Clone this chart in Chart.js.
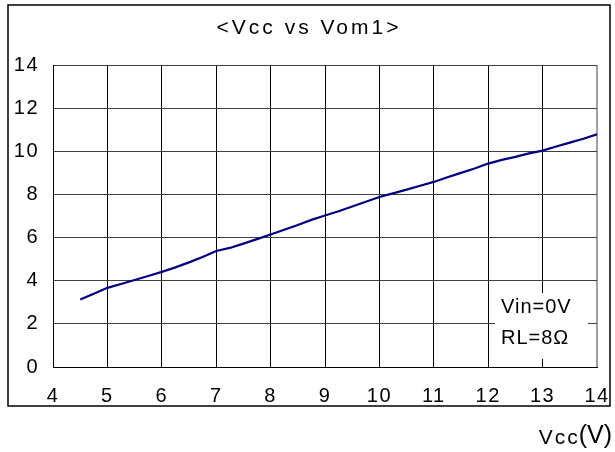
<!DOCTYPE html>
<html>
<head>
<meta charset="utf-8">
<script src="https://cdn.jsdelivr.net/npm/chart.js@4"></script>
<style>
  html, body { margin: 0; padding: 0; background: #fff; }
  #wrap { position: relative; width: 615px; height: 452px; }
  canvas { position: absolute; left: 0; top: 0; }
</style>
</head>
<body>
<div id="wrap"><canvas id="c" width="615" height="452"></canvas></div>
<script>
const chartTitle = "<Vcc vs Vom1>";
const xAxisTitleMain = "Vcc";
const xAxisTitleUnit = "(V)";
const noteLines = ["Vin=0V", "RL=8\u03A9"];

const vcc = [4.5, 4.75, 5.0, 5.25, 5.5, 5.75, 6.0, 6.25, 6.5, 6.75, 7.0, 7.25, 7.5, 7.75, 8.0,
             8.25, 8.5, 8.75, 9.0, 9.25, 9.5, 9.75, 10.0, 10.25, 10.5, 10.75, 11.0, 11.25, 11.5,
             11.75, 12.0, 12.25, 12.5, 12.75, 13.0, 13.25, 13.5, 13.75, 14.0];
const vom1 = [3.13, 3.40, 3.67, 3.85, 4.03, 4.22, 4.41, 4.62, 4.85, 5.10, 5.38, 5.52, 5.72, 5.93, 6.14,
              6.36, 6.58, 6.82, 7.02, 7.22, 7.44, 7.66, 7.88, 8.05, 8.22, 8.40, 8.58, 8.80, 9.00,
              9.20, 9.43, 9.60, 9.74, 9.90, 10.03, 10.22, 10.40, 10.58, 10.79];

const xTicks = [4, 5, 6, 7, 8, 9, 10, 11, 12, 13, 14];
const yTicks = [0, 2, 4, 6, 8, 10, 12, 14];

const FONT = "'Liberation Sans', Arial, sans-serif";

const decor = {
  id: 'decor',
  beforeDraw(chart) {
    const ctx = chart.ctx;
    ctx.save();
    ctx.fillStyle = '#fff';
    ctx.fillRect(0, 0, chart.width, chart.height);
    ctx.restore();
    ctx.letterSpacing = '1.5px';
  },
  afterDatasetsDraw(chart) {
    const ctx = chart.ctx;
    ctx.save();
    // note box (covers grid)
    ctx.fillStyle = '#fff';
    ctx.fillRect(495, 293, 93, 66);
    ctx.fillStyle = '#000';
    ctx.font = '20px ' + FONT;
    ctx.textBaseline = 'middle';
    ctx.textAlign = 'left';
    ctx.letterSpacing = '1px';
    ctx.fillText(noteLines[0], 501, 307);
    ctx.fillText(noteLines[1], 501, 338);
    // outer frame
    ctx.letterSpacing = '0px';
    ctx.strokeStyle = '#000';
    ctx.lineWidth = 1.5;
    ctx.strokeRect(8, 5, 602, 401);
    // title
    ctx.font = '21px ' + FONT;
    ctx.textAlign = 'center';
    ctx.letterSpacing = '3px';
    ctx.fillText(chartTitle, 309, 28);
    // x axis title
    ctx.textAlign = 'right';
    ctx.letterSpacing = '0px';
    ctx.font = '25px ' + FONT;
    const uw = ctx.measureText(xAxisTitleUnit).width;
    ctx.fillText(xAxisTitleUnit, 612, 436);
    ctx.letterSpacing = '2px';
    ctx.font = '21px ' + FONT;
    ctx.fillText(xAxisTitleMain, 612 - uw + 1, 438);
    ctx.restore();
  }
};

new Chart(document.getElementById('c'), {
  type: 'line',
  data: {
    datasets: [{
      data: vcc.map((x, i) => ({ x: x, y: vom1[i] })),
      borderColor: '#000080',
      borderWidth: 2.2,
      pointRadius: 0,
      tension: 0,
      fill: false
    }]
  },
  options: {
    responsive: false,
    animation: false,
    devicePixelRatio: 1,
    layout: { padding: { left: 0, right: 18, top: 65, bottom: 0 } },
    plugins: { legend: { display: false }, title: { display: false }, tooltip: { enabled: false } },
    scales: {
      x: {
        type: 'linear', min: 4, max: 14,
        afterBuildTicks(s) { s.ticks = xTicks.map(v => ({ value: v })); },
        afterFit(s) { s.height = 85; s.paddingLeft = 0; s.paddingRight = 0; },
        ticks: { color: '#000', font: { family: FONT, size: 20 }, padding: 17, maxRotation: 0 },
        grid: {
          drawTicks: false,
          color: c => (c.tick && c.tick.value === 14) ? '#a0a0a0' : '#000',
          lineWidth: c => (c.tick && c.tick.value === 14) ? 2 : 1
        },
        border: { display: true, color: '#000', width: 1 }
      },
      y: {
        type: 'linear', min: 0, max: 14,
        afterBuildTicks(s) { s.ticks = yTicks.map(v => ({ value: v })); },
        afterFit(s) { s.width = 53; s.paddingTop = 0; s.paddingBottom = 0; },
        ticks: { color: '#000', font: { family: FONT, size: 20 }, padding: 14 },
        grid: {
          drawTicks: false,
          color: c => (c.tick && c.tick.value === 0) ? '#000' : '#404040',
          lineWidth: 1
        },
        border: { display: true, color: '#000', width: 1 }
      }
    }
  },
  plugins: [decor]
});
</script>
</body>
</html>
